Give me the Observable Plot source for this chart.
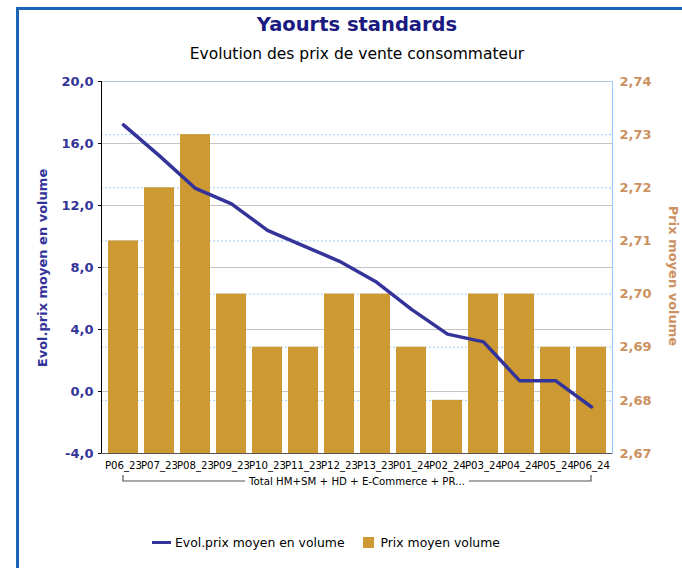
<!DOCTYPE html>
<html><head><meta charset="utf-8">
<script src="https://cdn.jsdelivr.net/npm/d3@7"></script>
<script src="https://cdn.jsdelivr.net/npm/@observablehq/plot@0.6"></script>
<style>
body{margin:0;background:#fff;}
#wrap{position:relative;width:682px;height:568px;overflow:hidden;font-family:"DejaVu Sans",sans-serif;background:#fff;}
#frame{position:absolute;left:16px;top:7px;width:700px;height:600px;border-top:3px solid #1b63b6;border-left:3px solid #1b63b6;box-sizing:border-box;}
#title{position:absolute;left:0;width:714px;top:13px;text-align:center;font-weight:bold;font-size:19.5px;color:#1a1a80;}
#subtitle{position:absolute;left:0;width:714px;top:45px;text-align:center;font-size:15.5px;color:#000;}
#chart{position:absolute;left:0;top:0;}
.ylab{position:absolute;font-weight:bold;font-size:13px;white-space:nowrap;}
#ylabL{left:42px;top:268px;color:#333399;transform:translate(-50%,-50%) rotate(-90deg);}
#ylabR{left:673px;top:276px;color:#cc9160;transform:translate(-50%,-50%) rotate(90deg);}
#legend{position:absolute;top:535px;left:152px;font-size:12.4px;color:#000;display:flex;align-items:center;}
.sw-line{display:inline-block;width:19px;height:3px;background:#333399;margin-right:4px;}
.sw-box{display:inline-block;width:11px;height:11px;background:#cc9933;margin-left:18px;margin-right:7px;}
</style></head>
<body>
<div id="wrap">
  <div id="frame"></div>
  <div id="title">Yaourts standards</div>
  <div id="subtitle">Evolution des prix de vente consommateur</div>
  <div id="chart"></div>
  <div class="ylab" id="ylabL">Evol.prix moyen en volume</div>
  <div class="ylab" id="ylabR">Prix moyen volume</div>
  <div id="legend"><span class="sw-line"></span><span>Evol.prix moyen en volume</span><span class="sw-box"></span><span>Prix moyen volume</span></div>
</div>
<script>
const periods = ["P06_23","P07_23","P08_23","P09_23","P10_23","P11_23","P12_23","P13_23","P01_24","P02_24","P03_24","P04_24","P05_24","P06_24"];
const evolPrix = [17.2,15.2,13.1,12.1,10.4,9.4,8.4,7.1,5.3,3.7,3.2,0.7,0.7,-1.0];
const prixMoyen = [2.71,2.72,2.73,2.70,2.69,2.69,2.70,2.70,2.69,2.68,2.70,2.70,2.69,2.69];
const leftTicks = [-4,0,4,8,12,16,20];
const rightTicks = [2.67,2.68,2.69,2.70,2.71,2.72,2.73,2.74];
const groupLabel = "Total HM+SM + HD + E-Commerce + PR...";

const L0 = leftTicks[0], L1 = leftTicks[leftTicks.length-1];
const R0 = rightTicks[0], R1 = rightTicks[rightTicks.length-1];
const toLeft = v => L0 + (v - R0) / (R1 - R0) * (L1 - L0);
const fromLeft = v => R0 + (v - L0) / (L1 - L0) * (R1 - R0);

const data = periods.map((p,i)=>({period:p, evol:evolPrix[i], prix:prixMoyen[i]}));
const comma = s => s.replace(".", ",");

const plot = Plot.plot({
  width:682, height:568,
  marginLeft:101, marginRight:70, marginTop:81, marginBottom:115,
  style:{fontFamily:"DejaVu Sans, sans-serif", background:"transparent", overflow:"visible"},
  x:{domain:periods, padding:0.18, axis:null},
  y:{domain:[L0,L1], axis:null},
  marks:[
    Plot.ruleY(leftTicks.slice(1), {stroke:"#c4c4c4", strokeWidth:1}),
    Plot.ruleY(rightTicks.slice(1).map(toLeft), {stroke:"#99ccff", strokeWidth:1, strokeDasharray:"2,2"}),
    Plot.barY(data, {x:"period", y1:L0, y2:d=>toLeft(d.prix), fill:"#cc9933"}),
    Plot.line(data, {x:"period", y:"evol", stroke:"#333399", strokeWidth:3.5, strokeLinejoin:"round"}),
    Plot.frame({anchor:"left", stroke:"#000"}),
    Plot.frame({anchor:"bottom", stroke:"#555"}),
    Plot.frame({anchor:"right", stroke:"#99ccff"}),
    Plot.axisY(leftTicks, {anchor:"left", tickSize:3, tickPadding:5, label:null,
      tickFormat:d=>comma(d.toFixed(1)), fontWeight:"bold", fontSize:13, fill:"#333399"}),
    Plot.axisY(rightTicks.map(toLeft), {anchor:"right", tickSize:0, tickPadding:7, label:null,
      tickFormat:d=>comma(fromLeft(d).toFixed(2)), fontWeight:"bold", fontSize:13, fill:"#cc9160"}),
    Plot.axisX(periods, {anchor:"bottom", tickSize:0, tickPadding:8, label:null, fontSize:10.2, fill:"#000"})
  ]
});
document.getElementById("chart").appendChild(plot);

// bracket under the category labels, positioned with the plot's x scale
const xs = plot.scale("x");
const bw = xs.bandwidth;
const xa = xs.apply(periods[0]) + bw/2;
const xb = xs.apply(periods[periods.length-1]) + bw/2;
const svg = d3.select(plot);
const yTop = 475, yLine = 481;
const g = svg.append("g").attr("fill","none").attr("stroke","#555").attr("stroke-width",1.2);
const mid = (xa+xb)/2;
const txt = svg.append("text").attr("x", mid).attr("y", yLine).attr("dy","0.35em")
  .attr("text-anchor","middle").attr("font-size",10.2).attr("fill","#000").text(groupLabel);
const tw = txt.node().getComputedTextLength();
g.append("path").attr("d", `M${xa},${yTop}V${yLine}H${mid - tw/2 - 4}`);
g.append("path").attr("d", `M${mid + tw/2 + 4},${yLine}H${xb}V${yTop}`);
</script>
</body></html>
